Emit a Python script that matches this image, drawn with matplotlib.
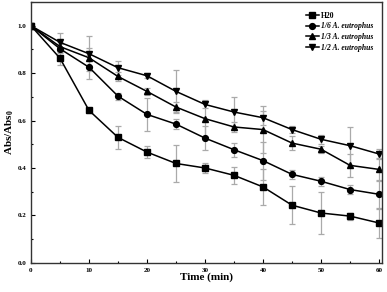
import matplotlib.pyplot as plt
from matplotlib.ticker import MultipleLocator

plt.rcParams['font.family'] = ['Liberation Serif', 'DejaVu Serif']
plt.rcParams['font.weight'] = 'bold'
plt.rcParams['mathtext.fontset'] = 'custom'
plt.rcParams['mathtext.rm'] = 'Liberation Serif:bold'
plt.rcParams['mathtext.it'] = 'Liberation Serif:italic:bold'

# time points (min)
time = [0, 5, 10, 15, 20, 25, 30, 35, 40, 45, 50, 55, 60]

# relative absorbance
h2o = [1.0, 0.863, 0.643, 0.529, 0.467, 0.419, 0.400, 0.369, 0.320, 0.243, 0.210, 0.197, 0.168]
h2o_err = [0, 0.03, 0.01, 0.05, 0.025, 0.08, 0.02, 0.035, 0.075, 0.08, 0.09, 0.015, 0.065]

sixth = [1.0, 0.903, 0.825, 0.703, 0.626, 0.585, 0.526, 0.477, 0.431, 0.373, 0.344, 0.309, 0.289]
sixth_err = [0, 0.02, 0.05, 0.015, 0.07, 0.02, 0.05, 0.03, 0.08, 0.02, 0.02, 0.02, 0.06]

third = [1.0, 0.912, 0.865, 0.786, 0.723, 0.657, 0.608, 0.573, 0.562, 0.505, 0.479, 0.411, 0.394]
third_err = [0, 0.02, 0.04, 0.02, 0.015, 0.02, 0.08, 0.02, 0.1, 0.03, 0.015, 0.05, 0.05]

half = [1.0, 0.930, 0.882, 0.823, 0.789, 0.723, 0.668, 0.636, 0.612, 0.562, 0.521, 0.494, 0.459]
half_err = [0, 0.04, 0.075, 0.03, 0.01, 0.09, 0.015, 0.065, 0.03, 0.015, 0.02, 0.08, 0.02]

labels = ['H20', '1/6 A. eutrophus', '1/3 A. eutrophus', '1/2 A. eutrophus']
markers = ['s', 'o', '^', 'v']

fig = plt.figure(figsize=(3.87, 2.92), dpi=100)
ax = fig.add_axes([0.080, 0.100, 0.907, 0.893])

series = [(h2o, h2o_err), (sixth, sixth_err), (third, third_err), (half, half_err)]
for (vals, err), lab, mk in zip(series, labels, markers):
    ax.errorbar(time, vals, yerr=err, fmt='none', ecolor='#aaaaaa',
                elinewidth=0.9, capsize=2, capthick=0.9, zorder=1)
    ax.plot(time, vals, color='black', marker=mk, markersize=4.2,
            linewidth=1.1, label=lab, zorder=2)

ax.set_xlim(0, 60.5)
ax.set_ylim(0, 1.1)
ax.xaxis.set_major_locator(MultipleLocator(10))
ax.xaxis.set_minor_locator(MultipleLocator(5))
ax.yaxis.set_major_locator(MultipleLocator(0.2))
ax.yaxis.set_minor_locator(MultipleLocator(0.1))
ax.yaxis.set_major_formatter(plt.FuncFormatter(lambda v, p: '%.1f' % v))
ax.tick_params(which='both', direction='in', labelsize=5, width=0.8)
ax.tick_params(which='major', length=3)
ax.tick_params(which='minor', length=1.5)
for sp in ax.spines.values():
    sp.set_linewidth(1.0)
    sp.set_color('#333333')

ax.set_xlabel('Time (min)', fontsize=8, fontweight='bold', labelpad=0)
ax.set_ylabel(r'Abs/Abs$_0$', fontsize=8, fontweight='bold', labelpad=1)

leg = ax.legend(loc='upper right', bbox_to_anchor=(0.985, 0.975), frameon=False,
                fontsize=5.5, handlelength=1.7, handletextpad=0.3,
                labelspacing=0.35, borderaxespad=0)
for t in leg.get_texts()[1:]:
    t.set_fontstyle('italic')

fig.savefig('out.png', dpi=100)
